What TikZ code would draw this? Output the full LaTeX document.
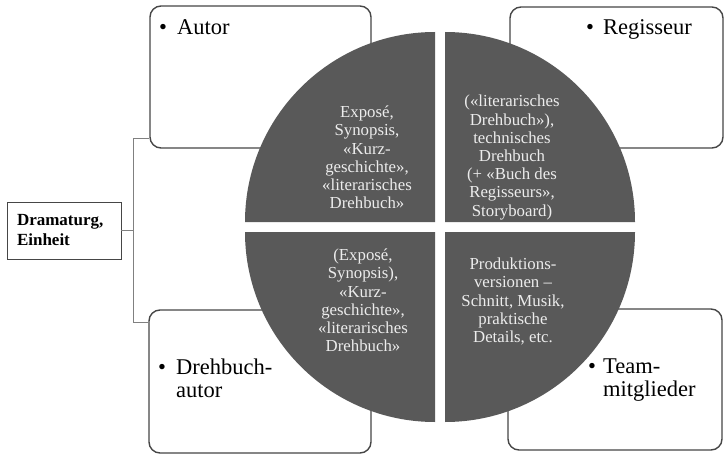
\documentclass[tikz,border=0pt]{standalone}
\usepackage{fontspec}
\setmainfont{Liberation Serif}
\usetikzlibrary{calc}
\definecolor{quadgray}{RGB}{89,89,89}
\definecolor{framegray}{RGB}{70,70,70}
\definecolor{quadtext}{RGB}{236,236,236}
\begin{document}
\begin{tikzpicture}[
			x=1pt, y=1pt,
			rolebox/.style={draw=framegray, line width=1.4pt, rounded corners=11pt, fill=white, inner sep=0pt},
			roletext/.style={font=\fontsize{22.5}{23}\selectfont, inner sep=0pt, anchor=base west},
			quadrant/.style={fill=quadgray},
			quadtext/.style={text=quadtext, font=\fontsize{16.8}{18.2}\selectfont, align=center, inner sep=0pt},
			bracket/.style={draw=gray, line width=1pt}
		]
		\useasboundingbox (0,0) rectangle (725,456);

		\node[rolebox, minimum width=221, minimum height=142] (autor) at (260.5,379) {};
		\node[rolebox, minimum width=213, minimum height=141] (regisseur) at (616.5,378.5) {};
		\node[rolebox, minimum width=222, minimum height=143] (drehbuch) at (260,74.5) {};
		\node[rolebox, minimum width=214, minimum height=141] (team) at (615,76.5) {};

		\node[roletext] (autor-text) at (159,421) {\textbullet\hspace{10pt}Autor};
		\node[roletext] (regisseur-text) at (586,421) {\textbullet\hspace{9pt}Regisseur};
		\node[roletext] (drehbuch-text) at (158,82) {\textbullet\hspace{10pt}\begin{tabular}[t]{@{}l@{}}Drehbuch-\\autor\end{tabular}};
		\node[roletext] (team-text) at (588,83) {\textbullet\hspace{7pt}\begin{tabular}[t]{@{}l@{}}Team-\\mitglieder\end{tabular}};

		\fill[quadrant] (435,234) -- (435,424) arc[start angle=90, end angle=180, radius=190] -- cycle;
		\fill[quadrant] (445,234) -- (635,234) arc[start angle=0, end angle=90, radius=190] -- cycle;
		\fill[quadrant] (435,224) -- (245,224) arc[start angle=180, end angle=270, radius=190] -- cycle;
		\fill[quadrant] (445,224) -- (445,34) arc[start angle=270, end angle=360, radius=190] -- cycle;

		\node[quadtext] (vorlage) at (367,298.5) {Exposé,\\Synopsis,\\«Kurz-\\geschichte»,\\«literarisches\\Drehbuch»};
		\node[quadtext] (technik) at (512,298.5) {(«literarisches\\Drehbuch»),\\technisches\\Drehbuch\\(+ «Buch des\\Regisseurs»,\\Storyboard)};
		\node[quadtext] (fassung) at (363,155.5) {(Exposé,\\Synopsis),\\«Kurz-\\geschichte»,\\«literarisches\\Drehbuch»};
		\node[quadtext] (produktion) at (513,154.5) {Produktions-\\versionen –\\Schnitt, Musik,\\praktische\\Details, etc.};

		\node[draw=framegray, line width=0.8pt, minimum width=114, minimum height=57, text width=94, inner xsep=10pt, align=left, font=\bfseries\fontsize{17}{20}\selectfont] (dramaturg) at (64,225.5) {Dramaturg,\\Einheit};

		\draw[bracket] (dramaturg.east) -- ++(12,0) coordinate (fork);
		\draw[bracket] ([yshift=10pt]autor.south west) -| (fork) |- ([yshift=-13pt]drehbuch.north west);
	\end{tikzpicture}
\end{document}
